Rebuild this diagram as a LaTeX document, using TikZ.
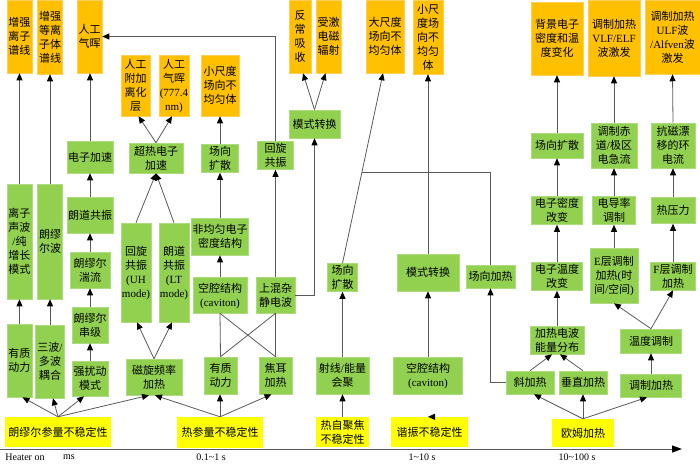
\documentclass[tikz,border=0pt]{standalone}
\usepackage{fontspec}
\usepackage{array}
\setmainfont{Liberation Serif}
\newfontfamily\cjk{Noto Sans CJK SC}
\newcommand\enf{\rmfamily}
\usetikzlibrary{arrows.meta,calc}
\definecolor{orgc}{HTML}{FFC000}
\definecolor{orgb}{HTML}{FFD055}
\definecolor{grnc}{HTML}{92D050}
\definecolor{grnb}{HTML}{ADDC80}
\definecolor{yelc}{HTML}{FFFF00}
\definecolor{linec}{HTML}{5A5A5A}
\newcolumntype{Q}{>{\setbox0=\hbox\bgroup}c<{\egroup\ht0=0pt\dp0=0pt\lower1.4pt\box0}}
\newcommand\bx[7]{\node[#1,minimum width=#5pt,minimum height=#6pt] (#2) at (#3,#4) {\begin{tabular}{@{}Q@{}}#7\end{tabular}};}
\begin{document}
\begin{tikzpicture}[x=1pt,y=-1pt,
  box/.style={inner sep=0pt, font=\cjk\fontsize{11}{14}\selectfont, text=black},
  ob/.style={box, fill=orgc, draw=orgb, line width=0.5pt},
  gb/.style={box, fill=grnc, draw=grnb, line width=0.6pt},
  yb/.style={box, fill=yelc},
  arr/.style={draw=linec, line width=0.8pt, -{Triangle[length=7pt,width=6pt,color=black]}},
  ln/.style={draw=linec, line width=0.8pt},
  lbl/.style={inner sep=0pt, font=\rmfamily\fontsize{10}{12}\selectfont}]
\useasboundingbox (0,0) rectangle (700,464);
% orange result boxes
\bx{ob}{o1}{19.5}{36.5}{25}{73}{增强\\离子\\谱线}
\bx{ob}{o2}{50}{37}{25}{74}{增强\\等离\\子体\\谱线}
\bx{ob}{o3}{89.5}{36.5}{25}{73}{人工\\气晖}
\bx{ob}{o4}{135.5}{85.5}{29}{61}{人工\\附加\\离化\\层}
\bx{ob}{o5}{174}{85.5}{30}{61}{人工\\气晖\\{\enf(777.4}\\{\enf nm)}}
\bx{ob}{o6}{220}{85.5}{38}{61}{小尺度\\场向不\\均匀体}
\bx{ob}{o7}{300}{36.5}{22}{73}{反\\常\\吸\\收}
\bx{ob}{o8}{328.5}{36.5}{25}{73}{受激\\电磁\\辐射}
\bx{ob}{o9}{385}{36.5}{38}{73}{大尺度\\场向不\\均匀体}
\bx{ob}{o10}{428}{37}{30}{74}{小尺\\度场\\向不\\均匀\\体}
\bx{ob}{o11}{557}{38.5}{52}{73}{背景电子\\密度和温\\度变化}
\bx{ob}{o12}{614}{38}{52}{76}{调制加热\\{\enf VLF/ELF}\\波激发}
\bx{ob}{o13}{672.5}{37}{55}{74}{调制加热\\{\enf ULF}波\\{\enf /Alfven}波\\激发}
% green process boxes
\bx{gb}{g1}{19.5}{241.5}{25}{115}{离子\\声波\\{\enf /}纯\\增长\\模式}
\bx{gb}{g2}{50}{241.5}{25}{115}{朗缪\\尔波}
\bx{gb}{g3}{90}{157}{46}{32}{电子加速}
\bx{gb}{g4}{90}{215}{46}{36}{朗道共振}
\bx{gb}{g5}{90}{270}{40}{36}{朗缪尔\\湍流}
\bx{gb}{g6}{90}{325}{36}{36}{朗缪尔\\串级}
\bx{gb}{g7}{90}{378.5}{36}{35}{强扰动\\模式}
\bx{gb}{g8}{19.5}{360.5}{25}{73}{有质\\动力}
\bx{gb}{g9}{50}{361.5}{29}{73}{三波{\enf /}\\多波\\耦合}
\bx{gb}{g10}{154}{377}{56}{36}{磁旋频率\\加热}
\bx{gb}{g11}{136}{272.5}{30}{99}{回旋\\共振\\{\enf (UH}\\{\enf mode)}}
\bx{gb}{g12}{174}{272.5}{30}{99}{朗道\\共振\\{\enf (LT}\\{\enf mode)}}
\bx{gb}{g13}{156}{158}{54}{30}{超热电子\\加速}
\bx{gb}{g14}{220}{158.5}{37}{27}{场向\\扩散}
\bx{gb}{g15}{220}{236.5}{57}{37}{非均匀电子\\密度结构}
\bx{gb}{g16}{220}{295}{54}{36}{空腔结构\\{\enf (caviton)}}
\bx{gb}{g17}{275.5}{295}{39}{36}{上混杂\\静电波}
\bx{gb}{g18}{275.5}{155.5}{36}{27}{回旋\\共振}
\bx{gb}{g19}{314.5}{124}{51}{28}{模式转换}
\bx{gb}{g20}{220.5}{375.5}{33}{37}{有质\\动力}
\bx{gb}{g21}{275.5}{375.5}{33}{37}{焦耳\\加热}
\bx{gb}{g22}{342.5}{375.5}{53}{37}{射线{\enf /}能量\\会聚}
\bx{gb}{g23}{428}{375.5}{69}{37}{空腔结构\\{\enf (caviton)}}
\bx{gb}{g24}{342.5}{277.5}{30}{25}{场向\\扩散}
\bx{gb}{g25}{428}{272.5}{62}{37}{模式转换}
\bx{gb}{g26}{490.5}{276.5}{49}{23}{场向加热}
\bx{gb}{g27}{557}{145.5}{52}{25}{场向扩散}
\bx{gb}{g28}{614}{145.5}{46}{45}{调制赤\\道{\enf /}极区\\电急流}
\bx{gb}{g29}{673}{145.5}{44}{45}{抗磁漂\\移的环\\电流}
\bx{gb}{g30}{557}{210.5}{51}{26}{电子密度\\改变}
\bx{gb}{g31}{614}{210.5}{43}{26}{电导率\\调制}
\bx{gb}{g32}{673}{210.5}{44}{26}{热压力}
\bx{gb}{g33}{557}{276.5}{51}{27}{电子温度\\改变}
\bx{gb}{g34}{614}{275.5}{48}{55}{{\enf E}层调制\\加热{\enf (}时\\间{\enf /}空间{\enf )}}
\bx{gb}{g35}{673}{276}{45}{26}{{\enf F}层调制\\加热}
\bx{gb}{g36}{557}{340}{54}{26}{加热电波\\能量分布}
\bx{gb}{g37}{530}{382.5}{48}{23}{斜加热}
\bx{gb}{g38}{583}{382.5}{48}{23}{垂直加热}
\bx{gb}{g39}{651}{341}{61}{24}{温度调制}
\bx{gb}{g40}{651}{385.5}{61}{23}{调制加热}
% yellow instability boxes
\bx{yb}{y1}{58}{432}{106}{30}{朗缪尔参量不稳定性}
\bx{yb}{y2}{220}{432.5}{86}{31}{热参量不稳定性}
\bx{yb}{y3}{342.5}{432}{53}{30}{热自聚焦\\不稳定性}
\bx{yb}{y4}{429.5}{432}{77}{30}{谐振不稳定性}
\bx{yb}{y5}{583}{433}{62}{28}{欧姆加热}
% axis
\coordinate (ax0) at (0,449);
\coordinate (ax1) at (682,449);
\draw[draw=linec, line width=1pt, -{Triangle[length=10pt,width=7pt,color=black]}] (ax0) -- (ax1);
\node[lbl] (t0) at (25,457) {Heater on};
\node[lbl] (t1) at (69,457) {ms};
\node[lbl] (t2) at (211,457) {0.1\textasciitilde1 s};
\node[lbl] (t3) at (422,457) {1\textasciitilde10 s};
\node[lbl] (t4) at (577,457) {10\textasciitilde100 s};
% left columns
\draw[arr] (g8.north) -- (g1.south);
\draw[arr] (g1.north) -- (o1.south);
\draw[arr] (g9.north) -- (g2.south);
\draw[arr] (g2.north) -- (o2.south);
\draw[arr] (g7.north) -- (g6.south);
\draw[arr] (g6.north) -- (g5.south);
\draw[arr] (g5.north) -- (g4.south);
\draw[arr] (g4.north) -- (g3.south);
\draw[arr] (g3.north) -- (g3.north |- o3.south);
% Langmuir parametric fan
\draw[arr] (y1.north) -- ([xshift=3]g8.south);
\draw[arr] (y1.north) -- ([xshift=3]g9.south);
\draw[arr] (y1.north) -- ([xshift=-6]g7.south);
\draw[arr] (y1.north) -- ([xshift=-5]g10.south);
% thermal parametric fan
\draw[arr] (y2.north) -- ([xshift=1]g10.south);
\draw[arr] (y2.north) -- (y2.north |- g20.south);
\draw[arr] (y2.north) -- ([xshift=-4]g21.south);
% cyclotron heating
\draw[arr] (g10.north) -- ([xshift=1]g11.south);
\draw[arr] (g10.north) -- ([xshift=-2]g12.south);
\draw[arr] (g11.north) -- (g13.south);
\draw[arr] (g12.north) -- (g13.south);
\draw[arr] (g13.north) -- ([xshift=3]o4.south);
\draw[arr] (g13.north) -- ([xshift=-2]o5.south);
% caviton column
\draw[arr] (g16.north) -- (g15.south);
\draw[arr] (g15.north) -- (g14.south);
\draw[arr] (g14.north) -- (o6.south);
% cross lines
\draw[ln] (g20.north) -- (g16.south);
\draw[ln] (g20.north) -- (g17.south);
\draw[ln] (g21.north) -- (g16.south);
\draw[ln] (g21.north) -- (g17.south);
% upper hybrid
\draw[arr] (g17.north) -- (g18.south);
\draw[arr] (g18.north) |- (o3.east);
\draw[arr] (g17.east) -| (g19.south);
\draw[arr] (g19.north) -- ([xshift=3]o7.south);
\draw[arr] (g19.north) -- ([xshift=-3]o8.south);
% self focusing
\draw[arr] (y3.north) -- (g22.south);
\draw[arr] (g22.north) -- (g24.south);
\draw[arr] (g24.north) -- ([xshift=-2]o9.south);
\path (g24.north) -- ([xshift=-2]o9.south) coordinate[pos=0.476] (j1);
\draw[ln] (g26.north) |- (j1);
% resonance
\draw[arr] (y4.north) -- (y4.north -| g23.south);
\draw[arr] (g23.north) -- (g25.south);
\draw[arr] (g25.north) -- (o10.south);
% ohmic heating
\draw[arr] (y5.north) -- ([xshift=4]g37.south);
\draw[arr] (y5.north) -- (g38.south);
\draw[arr] (y5.north) -- ([xshift=-4]g40.south);
\draw[arr] (g37.west) -| (g26.south);
\draw[arr] (g37.north) -- ([xshift=-5]g36.south);
\draw[arr] (g38.north) -- ([xshift=3]g36.south);
\draw[arr] (g36.north) -- (g33.south);
\draw[arr] (g33.north) -- (g30.south);
\draw[arr] (g30.north) -- (g27.south);
\draw[arr] (g27.north) -- (o11.south);
\draw[arr] (g40.north) -- (g39.south);
\draw[arr] (g39.north) -- (g34.south);
\draw[arr] (g39.north) -- (g35.south);
\draw[arr] (g34.north) -- (g31.south);
\draw[arr] (g31.north) -- (g28.south);
\draw[arr] (g28.north) -- (o12.south);
\draw[arr] (g35.north) -- (g32.south);
\draw[arr] (g32.north) -- (g29.south);
\draw[arr] (g29.north) -- (o13.south);
\end{tikzpicture}
\end{document}
